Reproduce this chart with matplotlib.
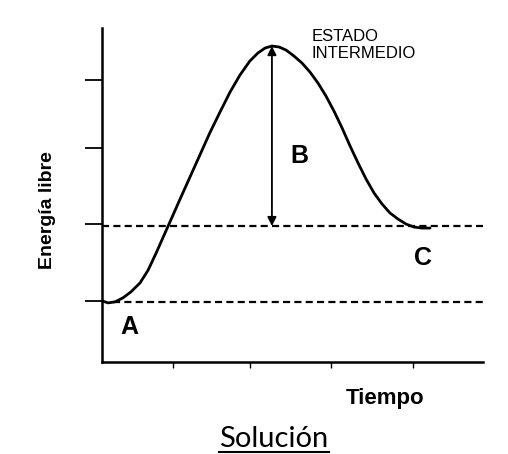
import matplotlib
matplotlib.use('Agg')
import matplotlib.pyplot as plt
from matplotlib.lines import Line2D


# Curva de energia libre (unidades arbitrarias)
tiempo = [0.00, 0.16, 0.34, 0.55, 0.76, 1.00, 1.21, 1.42, 1.63, 1.84, 2.05,
          2.31, 2.57, 2.83, 3.10, 3.36, 3.62, 3.88, 4.09, 4.28, 4.46, 4.65,
          4.83, 5.04, 5.25, 5.46, 5.67, 5.88, 6.09, 6.30, 6.51, 6.72, 6.93,
          7.14, 7.35, 7.56, 7.77, 7.98, 8.19, 8.40, 8.61]
energia = [1.83, 1.77, 1.80, 1.92, 2.10, 2.37, 2.75, 3.26, 3.80, 4.34, 4.88,
           5.54, 6.20, 6.86, 7.49, 8.08, 8.59, 9.01, 9.25, 9.40, 9.46, 9.43,
           9.34, 9.16, 8.95, 8.68, 8.35, 7.96, 7.51, 7.01, 6.47, 5.96, 5.48,
           5.06, 4.73, 4.46, 4.28, 4.13, 4.04, 4.01, 4.01]

# Niveles A, C y estado intermedio
nivel_A = 1.80
nivel_C = 4.07
pico_t = 4.46
pico_E = 9.46

# Marcas de los ejes
yticks = [1.83, 4.13, 6.41, 8.44]
xticks = [1.86, 3.88, 6.01, 8.16]



fig = plt.figure(figsize=(5.08, 4.54), dpi=100)
ax = fig.add_axes([102/508, 92/454, 381/508, 334/454])
ax.set_xlim(0, 10)
ax.set_ylim(0, 10)

ax.spines['top'].set_visible(False)
ax.spines['right'].set_visible(False)
ax.spines['left'].set_linewidth(1.8)
ax.spines['bottom'].set_linewidth(1.8)

ax.set_yticks(yticks)
ax.set_xticks(xticks)
ax.set_yticklabels([])
ax.set_xticklabels([])
ax.tick_params(axis='y', direction='out', length=12, width=1.3)
ax.tick_params(axis='x', direction='out', length=4, width=1)


# Lineas discontinuas
ax.plot([0.29, 10], [nivel_A, nivel_A], color='black', lw=1.6,
        dashes=(3.2, 1.9), clip_on=False)
ax.plot([0, 10], [nivel_C, nivel_C], color='black', lw=1.6,
        dashes=(3.2, 1.9), clip_on=False)

# Curva
ax.plot(tiempo, energia, color='black', lw=2.0, solid_capstyle='round',
        solid_joinstyle='round', clip_on=False)

# Flecha doble (B)
ax.annotate('', xy=(pico_t, pico_E), xytext=(pico_t, nivel_C),
            arrowprops=dict(arrowstyle='<|-|>', color='black', lw=1.3,
                            mutation_scale=13, shrinkA=0, shrinkB=0))


# Textos
ff = ['Liberation Sans', 'DejaVu Sans']
ax.text(5.51, 9.61, 'ESTADO', fontsize=12, family=ff, va='baseline')
ax.text(5.51, 9.10, 'INTERMEDIO', fontsize=12, family=ff, va='baseline')
ax.text(5.17, 6.17, 'B', fontsize=18, weight='bold', family=ff,
        ha='center', va='center')
ax.text(8.43, 3.11, 'C', fontsize=18, weight='bold', family=ff,
        ha='center', va='center')
ax.text(0.71, 1.05, 'A', fontsize=18, weight='bold', family=ff,
        ha='center', va='center')

fig.text(47/508, 1 - 210/454, 'Energía libre', fontsize=14, weight='bold',
         family=ff, rotation=90, ha='center', va='center')
fig.text(385/508, (454 - 404)/454, 'Tiempo', fontsize=16, weight='bold',
         family=ff, ha='center', va='baseline')

sol = fig.text(274/508, 7/454, 'Solución', fontsize=21, family=['Lato', 'DejaVu Sans'],
               ha='center', va='baseline')

# Subrayado de "Solución"
fig.canvas.draw()
bb = sol.get_window_extent().transformed(fig.transFigure.inverted())
fig.add_artist(Line2D([bb.x0, bb.x1], [2/454, 2/454], color='black', lw=1.5,
                      transform=fig.transFigure))

fig.savefig('out.png', dpi=100, facecolor='white')
